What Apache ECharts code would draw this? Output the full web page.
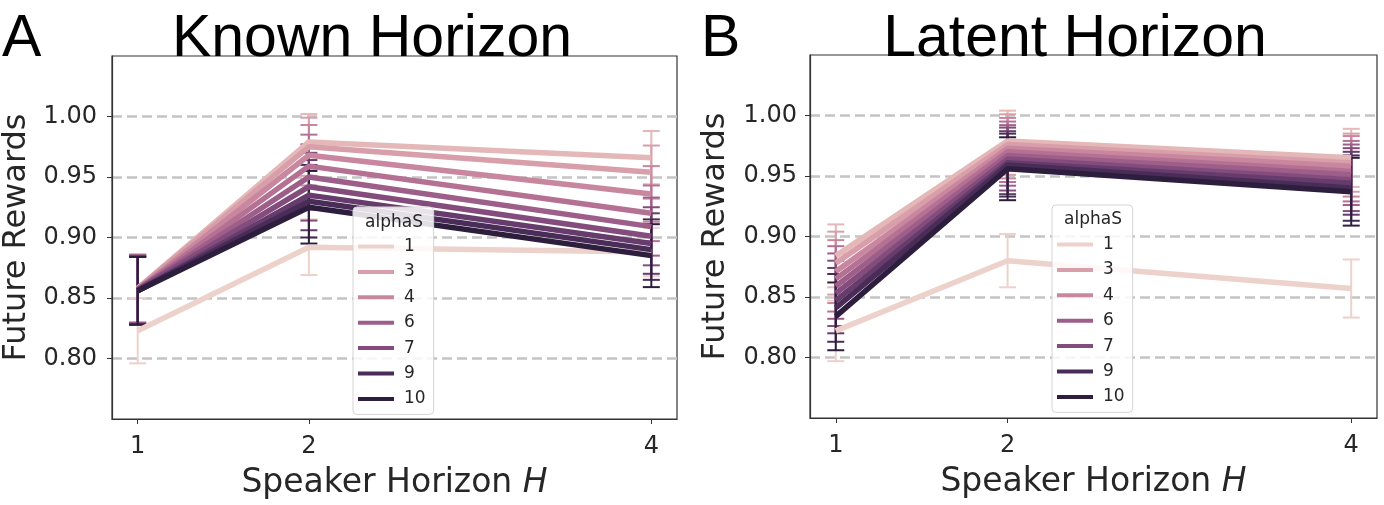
<!DOCTYPE html>
<html style="height: 100%">
<head>
    <meta charset="UTF-8">
    <script src="https://cdn.jsdelivr.net/npm/echarts@6/dist/echarts.min.js"></script>
</head>
<body style="height: 100%; margin: 0; background: #fff">
    <div id="main" style="width: 1384px; height: 505px;"></div>
    <script type="text/javascript">
        // speaker horizon H on the x axis
        var horizons = [1, 2, 4];
        // hue levels (alphaS)
        var alphas = [1, 2, 3, 4, 5, 6, 7, 8, 9, 10];
        var legendAlphas = ['1', '3', '4', '6', '7', '9', '10'];
        var yTicks = [0.80, 0.85, 0.90, 0.95, 1.00];

        // panel A: Known Horizon - mean future reward per alphaS at H = 1, 2, 4
        var knownMean = [
            [0.823, 0.892, 0.888],
            [0.858, 0.979, 0.966],
            [0.858, 0.975, 0.954],
            [0.857, 0.968, 0.936],
            [0.857, 0.959, 0.920],
            [0.857, 0.950, 0.909],
            [0.857, 0.942, 0.901],
            [0.856, 0.935, 0.895],
            [0.856, 0.930, 0.890],
            [0.856, 0.925, 0.885]
        ];
        // half width of the error bars
        var knownErr = [
            [0.027, 0.023, 0.020],
            [0.028, 0.023, 0.022],
            [0.028, 0.024, 0.022],
            [0.028, 0.025, 0.023],
            [0.028, 0.026, 0.023],
            [0.028, 0.027, 0.024],
            [0.028, 0.028, 0.024],
            [0.028, 0.029, 0.025],
            [0.028, 0.030, 0.025],
            [0.028, 0.030, 0.026]
        ];

        // panel B: Latent Horizon
        var latentMean = [
            [0.822, 0.880, 0.857],
            [0.884, 0.979, 0.965],
            [0.878, 0.976, 0.961],
            [0.871, 0.973, 0.958],
            [0.865, 0.970, 0.954],
            [0.859, 0.967, 0.951],
            [0.853, 0.964, 0.947],
            [0.847, 0.961, 0.944],
            [0.841, 0.959, 0.940],
            [0.834, 0.956, 0.937]
        ];
        var latentErr = [
            [0.025, 0.022, 0.024],
            [0.026, 0.025, 0.024],
            [0.026, 0.025, 0.024],
            [0.026, 0.025, 0.025],
            [0.027, 0.025, 0.025],
            [0.027, 0.025, 0.025],
            [0.027, 0.026, 0.026],
            [0.027, 0.026, 0.026],
            [0.028, 0.026, 0.027],
            [0.028, 0.026, 0.028]
        ];

        var myChart = echarts.init(document.getElementById('main'));

        var sans = 'DejaVu Sans';
        var ink = '#262626';

        // seaborn default cubehelix colormap (light -> dark)
        function cubehelix(x) {
            var a = 0.8 * x * (1 - x) / 2;
            var phi = 2 * Math.PI * (0.4 * x);
            var c = Math.cos(phi), s = Math.sin(phi);
            var rgb = [
                x + a * (-0.14861 * c + 1.78277 * s),
                x + a * (-0.29227 * c - 0.90649 * s),
                x + a * (1.97294 * c)
            ];
            return '#' + rgb.map(function (v) {
                var n = Math.round(Math.max(0, Math.min(1, v)) * 255);
                return (n < 16 ? '0' : '') + n.toString(16);
            }).join('');
        }
        function alphaColor(k) {
            return cubehelix(0.85 - 0.7 * (k - 1) / 9);
        }

        function renderErr(params, api) {
            var x = api.value(0);
            var p1 = api.coord([x, api.value(1)]);
            var p2 = api.coord([x, api.value(2)]);
            var w = 8.5;
            var style = { stroke: api.visual('color'), lineWidth: 2, fill: null };
            return {
                type: 'group',
                children: [
                    { type: 'line', shape: { x1: p1[0], y1: p1[1], x2: p2[0], y2: p2[1] }, style: style },
                    { type: 'line', shape: { x1: p1[0] - w, y1: p1[1], x2: p1[0] + w, y2: p1[1] }, style: style },
                    { type: 'line', shape: { x1: p2[0] - w, y1: p2[1], x2: p2[0] + w, y2: p2[1] }, style: style }
                ]
            };
        }

        var series = [];
        [[knownMean, knownErr], [latentMean, latentErr]].forEach(function (panel, p) {
            var mean = panel[0], err = panel[1];
            alphas.forEach(function (a, i) {
                var color = alphaColor(a);
                series.push({
                    name: String(a),
                    type: 'line',
                    xAxisIndex: p,
                    yAxisIndex: p,
                    symbol: 'none',
                    silent: true,
                    lineStyle: { width: 5.5, color: color },
                    itemStyle: { color: color },
                    data: horizons.map(function (h, j) { return [h, mean[i][j]]; })
                });
                series.push({
                    name: String(a),
                    type: 'custom',
                    xAxisIndex: p,
                    yAxisIndex: p,
                    silent: true,
                    itemStyle: { color: color },
                    renderItem: renderErr,
                    data: horizons.map(function (h, j) {
                        return [h, mean[i][j] - err[i][j], mean[i][j] + err[i][j]];
                    })
                });
            });
        });

        var grids = [
            { left: 109, right: 707, top: 56, bottom: 81 },
            { left: 810, right: 7, top: 55, bottom: 87 }
        ];

        function makeX(p) {
            return {
                type: 'value',
                gridIndex: p,
                min: 0.85,
                max: 4.15,
                name: 'Speaker Horizon {i|H}',
                nameLocation: 'middle',
                nameGap: 48,
                nameTextStyle: {
                    fontFamily: sans, fontSize: 33, color: ink,
                    rich: { i: { fontFamily: sans, fontSize: 33, fontStyle: 'italic', color: ink } }
                },
                axisLine: { show: true, lineStyle: { color: '#333', width: 1.2 } },
                axisTick: { show: true, length: 5, customValues: horizons, lineStyle: { color: '#333' } },
                axisLabel: { customValues: horizons, margin: 16, fontFamily: sans, fontSize: 24, color: ink },
                splitLine: { show: false }
            };
        }
        function makeY(p) {
            return {
                type: 'value',
                gridIndex: p,
                min: 0.75,
                max: 1.05,
                interval: 0.05,
                name: 'Future Rewards',
                nameLocation: 'middle',
                nameGap: p === 0 ? 79 : 78,
                nameTextStyle: { fontFamily: sans, fontSize: 32, color: ink },
                axisLine: { show: true, lineStyle: { color: '#333', width: 1.2 } },
                axisTick: { show: true, length: 5, customValues: yTicks, lineStyle: { color: '#333' } },
                axisLabel: {
                    customValues: yTicks,
                    margin: p === 0 ? 15 : 13,
                    fontFamily: sans, fontSize: 24, color: ink,
                    formatter: function (v) { return v.toFixed(2); }
                },
                splitLine: {
                    show: true,
                    lineStyle: { type: [10, 5], color: '#c4c4c4', width: 2.5 }
                }
            };
        }

        function makeLegend(left, top) {
            return {
                data: legendAlphas,
                orient: 'vertical',
                left: left,
                top: top,
                icon: 'rect',
                itemWidth: 36,
                itemHeight: 4,
                itemGap: 8.4,
                selectedMode: false,
                padding: [31, 8, 7, 5],
                backgroundColor: 'rgba(255,255,255,0.85)',
                borderColor: '#d4d4d4',
                borderWidth: 1,
                borderRadius: 4,
                textStyle: { fontFamily: sans, fontSize: 17, lineHeight: 17, color: ink, padding: [0, 0, 0, 5] }
            };
        }

        function label(text, x, y, size, align, font) {
            return {
                type: 'text',
                x: x,
                y: y,
                z: 100,
                style: {
                    text: text,
                    fill: '#000',
                    font: size + 'px ' + font,
                    align: align,
                    verticalAlign: 'middle'
                }
            };
        }

        var option = {
            animation: false,
            backgroundColor: '#fff',
            grid: grids.map(function (g) {
                return Object.assign({ show: true, borderColor: '#333', borderWidth: 1.2 }, g);
            }),
            xAxis: [makeX(0), makeX(1)],
            yAxis: [makeY(0), makeY(1)],
            legend: [makeLegend(353, 207), makeLegend(1052, 205)],
            graphic: [
                label('A', 2, 40, 59, 'left', '"Liberation Sans", Arial'),
                label('Known Horizon', 372, 40, 59, 'center', '"Liberation Sans", Arial'),
                label('B', 701, 40, 59, 'left', '"Liberation Sans", Arial'),
                label('Latent Horizon', 1075, 40, 59, 'center', '"Liberation Sans", Arial'),
                {
                    type: 'text', x: 394, y: 223, z: 100,
                    style: { text: 'alphaS', fill: ink, font: '17px "DejaVu Sans"', align: 'center', verticalAlign: 'middle' }
                },
                {
                    type: 'text', x: 1093, y: 220, z: 100,
                    style: { text: 'alphaS', fill: ink, font: '17px "DejaVu Sans"', align: 'center', verticalAlign: 'middle' }
                }
            ],
            series: series
        };

        myChart.setOption(option);
    </script>
</body>
</html>
